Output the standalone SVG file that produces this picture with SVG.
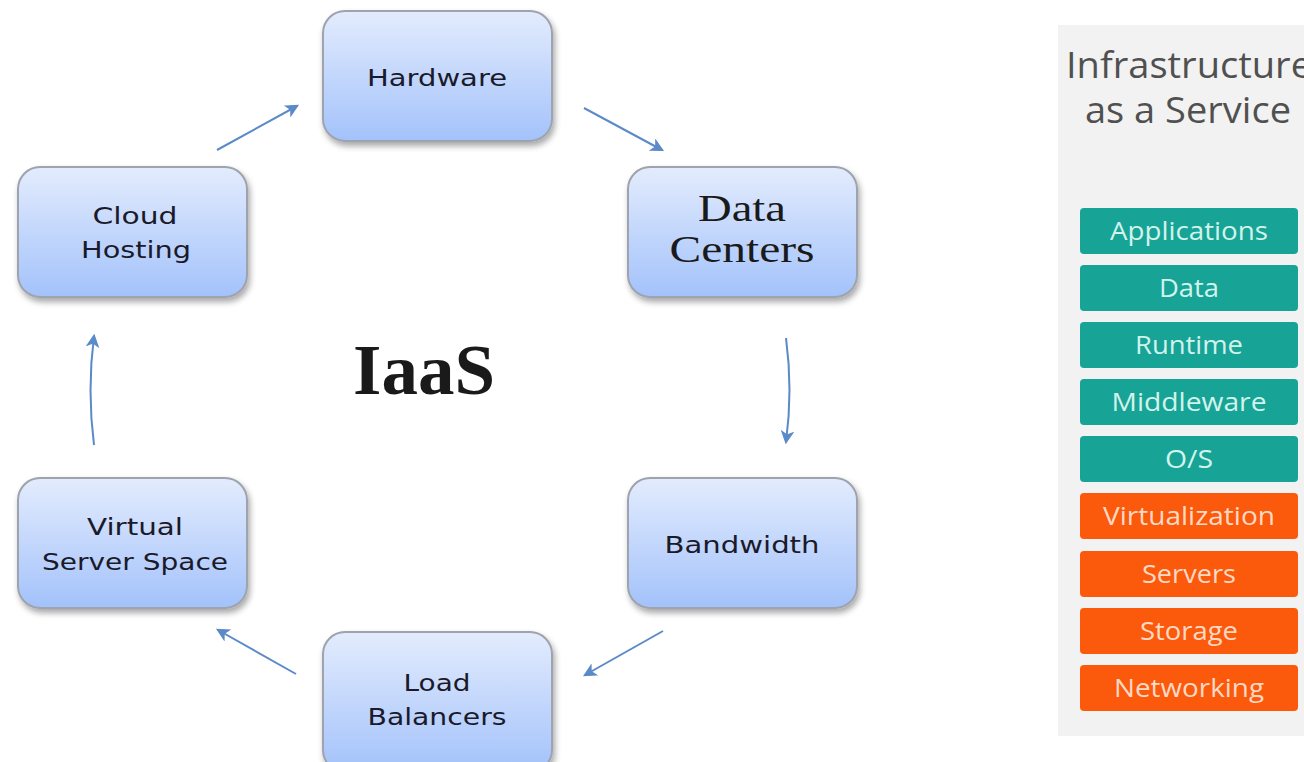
<svg xmlns="http://www.w3.org/2000/svg" width="1304" height="762" viewBox="0 0 1304 762">
<defs>
<linearGradient id="ng" x1="0" y1="0" x2="0" y2="1">
<stop offset="0" stop-color="#e3ecfd"/>
<stop offset="1" stop-color="#a3c2fb"/>
</linearGradient>
<filter id="sh" x="-10%" y="-10%" width="125%" height="130%">
<feGaussianBlur in="SourceAlpha" stdDeviation="3"/>
<feOffset dx="2" dy="4" result="b"/>
<feComponentTransfer><feFuncA type="linear" slope="0.35"/></feComponentTransfer>
<feMerge><feMergeNode/><feMergeNode in="SourceGraphic"/></feMerge>
</filter>
<marker id="ah" markerWidth="14" markerHeight="14" refX="11" refY="7" orient="auto" markerUnits="userSpaceOnUse">
<path d="M1,1.5 L12,7 L1,12.5 L4,7 Z" fill="#5b8ac8" stroke="#5b8ac8" stroke-width="1.2"/>
</marker>
</defs>
<style>
.node{fill:url(#ng);stroke:#9ea3ad;stroke-width:2;filter:url(#sh)}
.nt{font-family:"DejaVu Sans",Verdana,sans-serif;font-size:23px;fill:#1a1a2a;text-anchor:middle}
.st{font-family:"Liberation Serif","Times New Roman",serif;font-size:38px;fill:#1a1a1a;text-anchor:middle}
.con{fill:none;stroke:#5b8ac8;stroke-width:2;marker-end:url(#ah)}
.teal{fill:#17a396}
.org{fill:#fb5a0c}
.lt{font-family:"Open Sans",Lato,sans-serif;font-size:26px;text-anchor:middle}
.tt{fill:#d2f3ec}
.ot{fill:#ffd9c4}
.ttl{font-family:"Open Sans",Lato,sans-serif;font-size:36px;fill:#505050}
</style>
<rect width="1304" height="762" fill="#ffffff"/>

<g id="connectors">
<path class="con" d="M217,150 L297,106"/>
<path class="con" d="M584,108 L662,150"/>
<path class="con" d="M786,338 Q793,390 786,442"/>
<path class="con" d="M663,631 L585,675"/>
<path class="con" d="M296,674 L218,630"/>
<path class="con" d="M94,445 Q87,390 94,336"/>
</g>

<g id="hardware">
<rect class="node" x="323" y="11" width="229" height="130" rx="22"/>
<text class="nt" x="437" y="86" textLength="140" lengthAdjust="spacingAndGlyphs">Hardware</text>
</g>
<g id="data-centers">
<rect class="node" x="628" y="167" width="229" height="130" rx="22"/>
<text class="st" x="742" y="221" textLength="88" lengthAdjust="spacingAndGlyphs">Data</text>
<text class="st" x="742" y="262" textLength="145" lengthAdjust="spacingAndGlyphs">Centers</text>
</g>
<g id="bandwidth">
<rect class="node" x="628" y="478" width="229" height="130" rx="22"/>
<text class="nt" x="742" y="553" textLength="155" lengthAdjust="spacingAndGlyphs">Bandwidth</text>
</g>
<g id="load-balancers">
<rect class="node" x="323" y="632" width="229" height="140" rx="22"/>
<text class="nt" x="437" y="691" textLength="67" lengthAdjust="spacingAndGlyphs">Load</text>
<text class="nt" x="437" y="725" textLength="139" lengthAdjust="spacingAndGlyphs">Balancers</text>
</g>
<g id="virtual-server-space">
<rect class="node" x="18" y="478" width="229" height="130" rx="22"/>
<text class="nt" x="135" y="535" textLength="96" lengthAdjust="spacingAndGlyphs">Virtual</text>
<text class="nt" x="135" y="570" textLength="186" lengthAdjust="spacingAndGlyphs">Server Space</text>
</g>
<g id="cloud-hosting">
<rect class="node" x="18" y="167" width="229" height="130" rx="22"/>
<text class="nt" x="135" y="224" textLength="85" lengthAdjust="spacingAndGlyphs">Cloud</text>
<text class="nt" x="136" y="258" textLength="110" lengthAdjust="spacingAndGlyphs">Hosting</text>
</g>

<g id="iaas-label">
<text x="424" y="394" font-family="Liberation Serif,'Times New Roman',serif" font-weight="bold" font-size="72" fill="#1a1a1a" text-anchor="middle" textLength="142" lengthAdjust="spacingAndGlyphs">IaaS</text>
</g>

<g id="iaas-panel">
<rect x="1058" y="25" width="250" height="711" fill="#f2f2f2"/>
<text class="ttl" x="1066" y="78" textLength="246" lengthAdjust="spacingAndGlyphs">Infrastructure</text>
<text class="ttl" x="1085" y="123" textLength="206" lengthAdjust="spacingAndGlyphs">as a Service</text>
<g id="applications"><rect class="teal" x="1080" y="208" width="218" height="46" rx="4"/><text class="lt tt" x="1189" y="240" textLength="158" lengthAdjust="spacingAndGlyphs">Applications</text></g>
<g id="data"><rect class="teal" x="1080" y="265" width="218" height="46" rx="4"/><text class="lt tt" x="1189" y="297" textLength="60" lengthAdjust="spacingAndGlyphs">Data</text></g>
<g id="runtime"><rect class="teal" x="1080" y="322" width="218" height="46" rx="4"/><text class="lt tt" x="1189" y="354" textLength="108" lengthAdjust="spacingAndGlyphs">Runtime</text></g>
<g id="middleware"><rect class="teal" x="1080" y="379" width="218" height="46" rx="4"/><text class="lt tt" x="1189" y="411" textLength="155" lengthAdjust="spacingAndGlyphs">Middleware</text></g>
<g id="os"><rect class="teal" x="1080" y="436" width="218" height="46" rx="4"/><text class="lt tt" x="1189" y="468" textLength="48" lengthAdjust="spacingAndGlyphs">O/S</text></g>
<g id="virtualization"><rect class="org" x="1080" y="493" width="218" height="46" rx="4"/><text class="lt ot" x="1189" y="525" textLength="172" lengthAdjust="spacingAndGlyphs">Virtualization</text></g>
<g id="servers"><rect class="org" x="1080" y="551" width="218" height="46" rx="4"/><text class="lt ot" x="1189" y="583" textLength="94" lengthAdjust="spacingAndGlyphs">Servers</text></g>
<g id="storage"><rect class="org" x="1080" y="608" width="218" height="46" rx="4"/><text class="lt ot" x="1189" y="640" textLength="98" lengthAdjust="spacingAndGlyphs">Storage</text></g>
<g id="networking"><rect class="org" x="1080" y="665" width="218" height="46" rx="4"/><text class="lt ot" x="1189" y="697" textLength="150" lengthAdjust="spacingAndGlyphs">Networking</text></g>
</g>
</svg>
